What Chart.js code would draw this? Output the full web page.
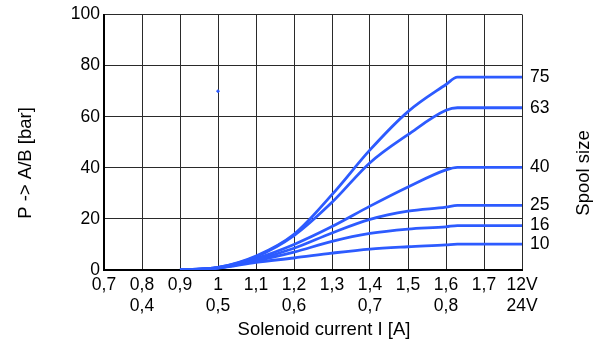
<!DOCTYPE html>
<html><head><meta charset="utf-8">
<script src="https://cdn.jsdelivr.net/npm/chart.js@4.4.0/dist/chart.umd.min.js"></script>
<style>html,body{margin:0;padding:0;background:#fff}#wrap{width:602px;height:342px}</style>
</head><body><div id="wrap"><canvas id="c" width="602" height="342"></canvas></div>
<script>
// Solenoid current (12V scale) sample points
const currentX   = [0.9, 1.0, 1.1, 1.2, 1.3, 1.4, 1.5, 1.6, 1.63, 1.8];
// Pressure P -> A/B [bar] per spool size
const spool75 = [0, 1.0, 5.5, 14.0, 29.5, 47.0, 62.0, 72.6, 75.5, 75.5];
const spool63 = [0, 1.0, 5.2, 13.5, 26.5, 42.0, 53.0, 62.5, 63.5, 63.5];
const spool40 = [0, 0.9, 4.5, 10.0, 17.0, 25.0, 32.5, 39.2, 40.2, 40.2];
const spool25 = [0, 0.8, 4.0, 8.5, 14.5, 19.8, 23.0, 24.6, 25.3, 25.3];
const spool16 = [0, 0.8, 3.6, 7.0, 11.2, 14.3, 16.0, 16.9, 17.4, 17.4];
const spool10 = [0, 0.7, 3.0, 4.7, 6.6, 8.2, 9.1, 9.8, 10.1, 10.1];
const spoolNames = ["75", "63", "40", "25", "16", "10"];
const strayX = [1.0];
const strayY = [70];
// axis tick labels
const xTickTop    = ["0,7","0,8","0,9","1","1,1","1,2","1,3","1,4","1,5","1,6","1,7","12V"];
const xTickBottom = ["","0,4","","0,5","","0,6","","0,7","","0,8","","24V"];
const yTickValues = [0, 20, 40, 60, 80, 100];

const FONT = "'Liberation Sans', Arial, sans-serif";
Chart.defaults.font.family = FONT;
Chart.defaults.color = '#000';

const seriesList = [spool75, spool63, spool40, spool25, spool16, spool10];
const BLUE = '#2d5bff';
const datasets = seriesList.map((s, i) => ({
  label: spoolNames[i],
  data: currentX.map((x, j) => ({x: x, y: s[j]})),
  borderColor: BLUE,
  borderWidth: 2.8,
  pointRadius: 0,
  fill: false,
  cubicInterpolationMode: 'monotone'
}));
datasets.push({
  type: 'scatter',
  label: 'dot',
  data: strayX.map((x, j) => ({x: x, y: strayY[j]})),
  backgroundColor: BLUE,
  borderColor: BLUE,
  pointRadius: 1.2,
  showLine: false
});

const labelPlugin = {
  id: 'labels',
  afterDraw(chart) {
    const ctx = chart.ctx;
    const ys = chart.scales.y;
    ctx.save();
    ctx.fillStyle = '#000';
    ctx.font = '17.5px ' + FONT;
    ctx.textAlign = 'left';
    ctx.textBaseline = 'middle';
    seriesList.forEach((s, i) => {
      ctx.fillText(spoolNames[i], 530, ys.getPixelForValue(s[s.length - 1]));
    });
    ctx.font = '18.5px ' + FONT;
    ctx.textAlign = 'center';
    ctx.fillText('Solenoid current I [A]', 324, 330);
    ctx.save();
    ctx.translate(26, 163);
    ctx.rotate(-Math.PI / 2);
    ctx.fillText('P -> A/B [bar]', 0, 0);
    ctx.restore();
    ctx.save();
    ctx.translate(584, 173);
    ctx.rotate(-Math.PI / 2);
    ctx.fillText('Spool size', 0, 0);
    ctx.restore();
    ctx.restore();
  }
};

new Chart(document.getElementById('c'), {
  type: 'line',
  data: { datasets: datasets },
  plugins: [labelPlugin],
  options: {
    responsive: false,
    animation: false,
    devicePixelRatio: 1,
    layout: { padding: { top: 13, right: 80, left: 0, bottom: 0 } },
    plugins: { legend: { display: false }, tooltip: { enabled: false } },
    scales: {
      x: {
        type: 'linear', min: 0.7, max: 1.8,
        afterBuildTicks: (s) => { s.ticks = xTickTop.map((t, i) => ({ value: 0.7 + i * 0.1 })); },
        ticks: {
          autoSkip: false, maxRotation: 0, padding: 5,
          font: { size: 17.5, lineHeight: 1.2 },
          callback: (v, i) => [xTickTop[i], xTickBottom[i]]
        },
        grid: { color: '#2a2a2a', lineWidth: 1, drawTicks: false },
        border: { color: '#000', width: 2 },
        afterFit: (s) => { s.height = 72; }
      },
      y: {
        min: 0, max: 100,
        afterBuildTicks: (s) => { s.ticks = yTickValues.map(v => ({ value: v })); },
        ticks: { padding: 4, font: { size: 17.5 } },
        grid: { color: '#2a2a2a', lineWidth: 1, drawTicks: false },
        border: { color: '#000', width: 2 },
        afterFit: (s) => { s.width = 104; }
      }
    }
  }
});
</script></body></html>
